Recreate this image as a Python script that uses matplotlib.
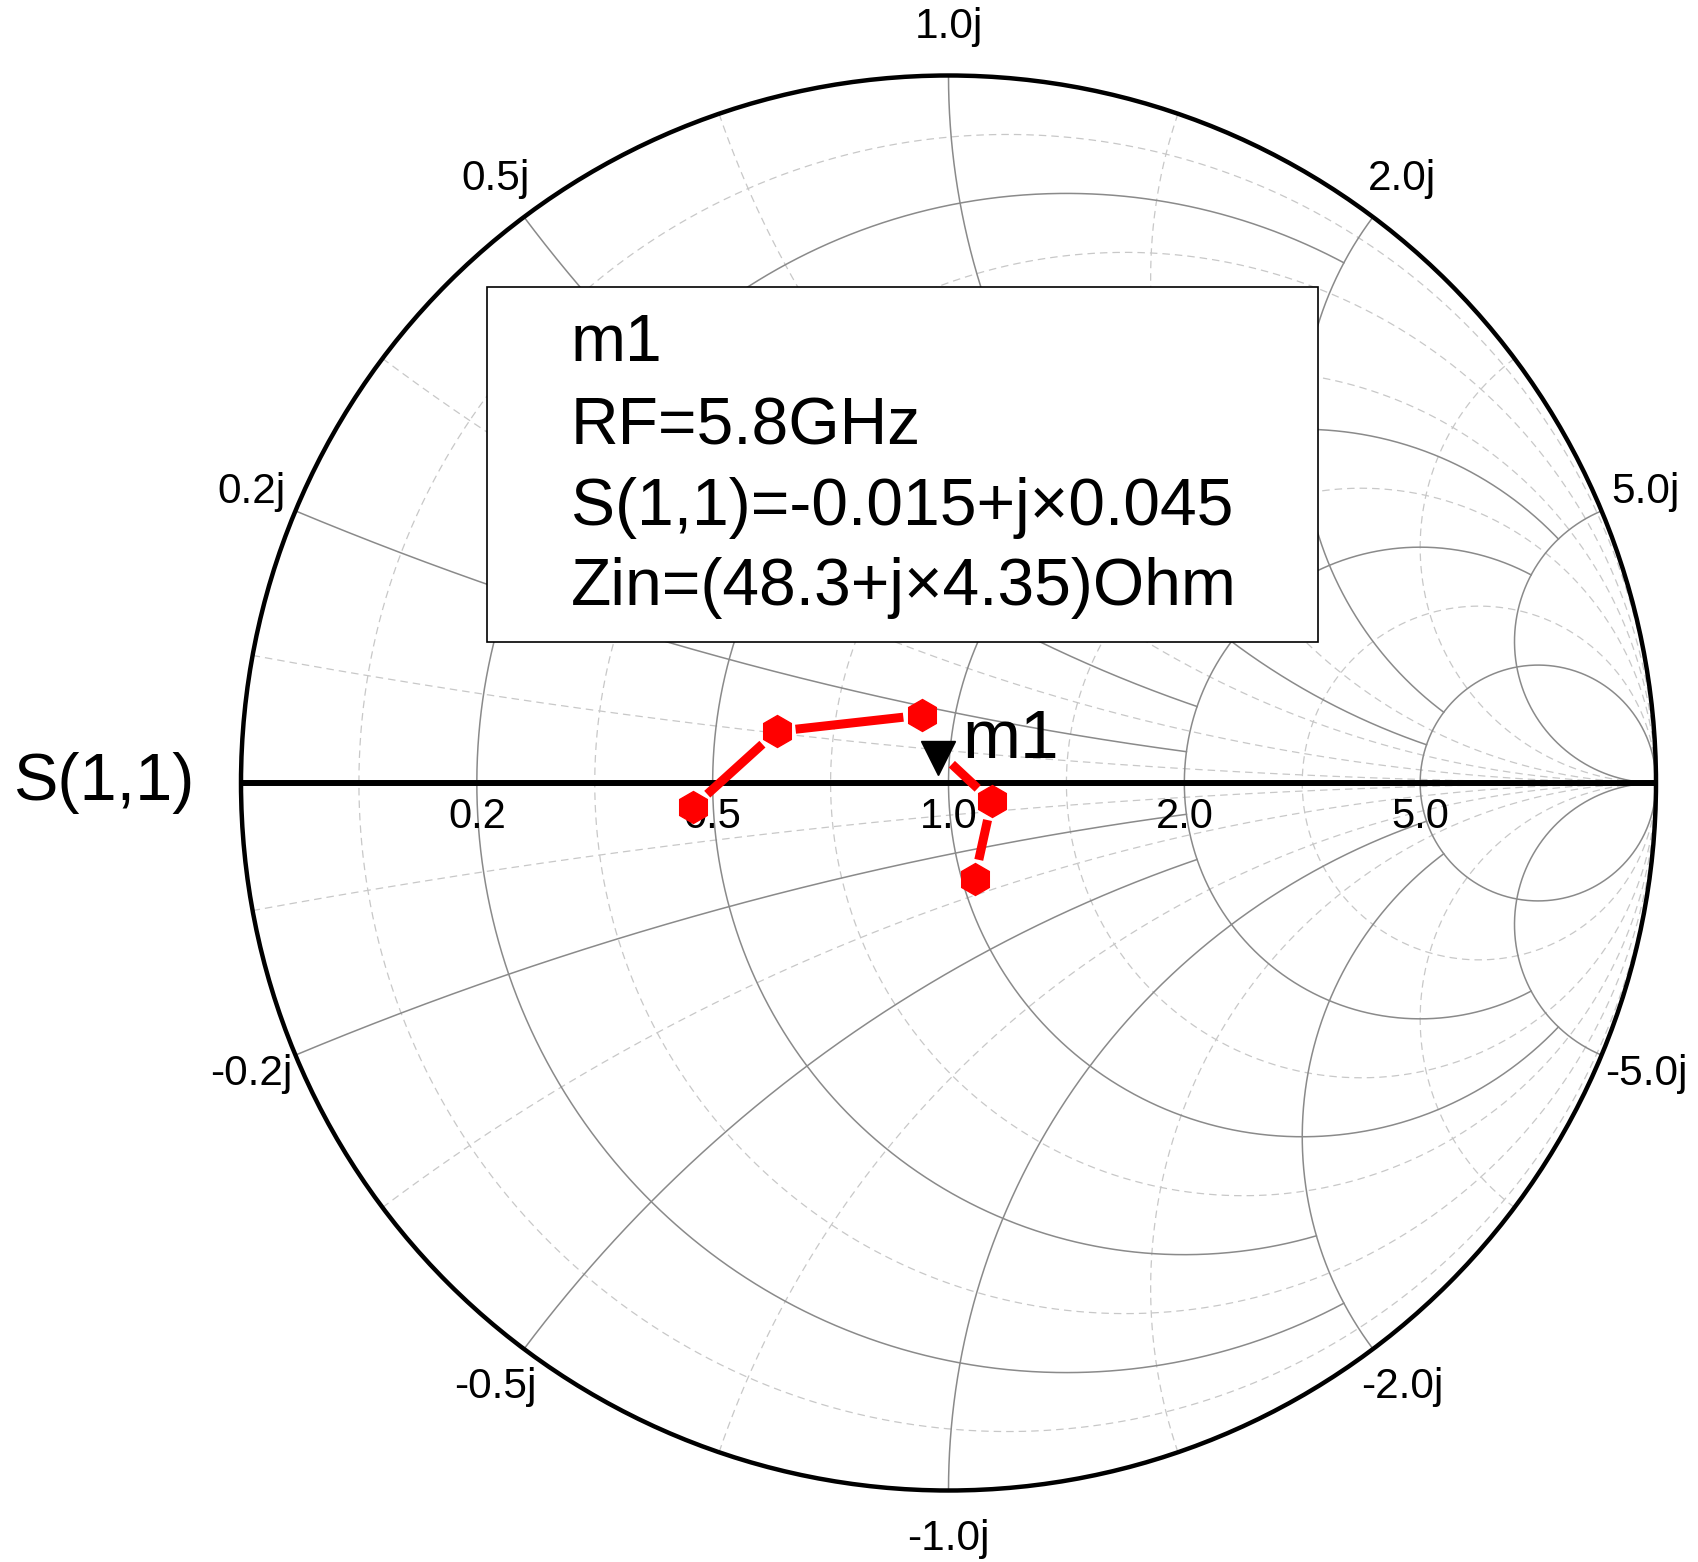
import numpy as np
import matplotlib
matplotlib.use('Agg')
import matplotlib.pyplot as plt
from matplotlib.patches import Circle, Rectangle
from matplotlib.transforms import offset_copy

plt.rcParams['font.family'] = ['Liberation Sans', 'DejaVu Sans']

# S(1,1) sweep samples (reflection coefficient, hexagon symbols)
s11_re = [-0.361, -0.243, -0.037, 0.061, 0.037]
s11_im = [-0.034, 0.073, 0.096, -0.026, -0.135]

# marker m1 (sits between 3rd and 4th sample on the trace)
m1_name = 'm1'
m1_freq = '5.8GHz'
m1_re, m1_im = -0.015, 0.045
m1_zin = (48.3, 4.35)
m1_index = 3

# Smith chart grid: solid circles/arcs and where they stop
r_major = [0.2, 0.5, 1.0, 2.0, 5.0]
r_major_xstop = [2, 2, 5, 5, np.inf]
x_major = [0.2, 0.5, 1.0, 2.0, 5.0]
x_major_rstop = [2, 2, 5, 5, np.inf]
# dashed circles/arcs (full)
grid_minor = [1 / 11, 1 / 3, 5 / 7, 7 / 5, 3.0]


def gamma(z):
    return (z - 1) / (z + 1)


def r_circle(r, xstop, n=1500):
    umax = np.arctan(xstop) if np.isfinite(xstop) else np.pi / 2
    u = np.linspace(-umax, umax, n)
    g = gamma(r + 1j * np.tan(u))
    return g.real, g.imag


def x_arc(x, rstop, n=1500):
    umax = np.arctan(rstop) if np.isfinite(rstop) else np.pi / 2
    u = np.linspace(0, umax, n)
    g = gamma(np.tan(u) + 1j * x)
    return g.real, g.imag


W, H = 1699, 1562
cx, cy, R = 948.5, 783.0, 707.5
fig = plt.figure(figsize=(W / 100, H / 100), dpi=100)
ax = fig.add_axes([0, 0, 1, 1])
ax.set_xlim(-cx / R, (W - cx) / R)
ax.set_ylim((cy - H) / R, cy / R)
ax.axis('off')

solid_kw = dict(color='#8a8a8a', lw=1.1, zorder=2)
dash_kw = dict(color='#c8c8c8', lw=0.9, linestyle=(0, (6, 4)), zorder=1)

# --- dashed grid ---
for v in grid_minor:
    ax.plot(*r_circle(v, np.inf), **dash_kw)
    ax.plot(*x_arc(v, np.inf), **dash_kw)
    ax.plot(*x_arc(-v, np.inf), **dash_kw)

# --- solid grid ---
for r, xs in zip(r_major, r_major_xstop):
    ax.plot(*r_circle(r, xs), **solid_kw)
for x, rs in zip(x_major, x_major_rstop):
    ax.plot(*x_arc(x, rs), **solid_kw)
    ax.plot(*x_arc(-x, rs), **solid_kw)

# outer circle and real axis
ax.add_patch(Circle((0, 0), 1, fill=False, ec='black', lw=3.2, zorder=3))
ax.plot([-1, 1], [0, 0], color='black', lw=4.3, solid_capstyle='butt', zorder=3)

# resistance labels under the axis
for r in r_major:
    g = gamma(r)
    ax.text(g.real, -0.02, f'{r:.1f}', fontsize=30, ha='center', va='top', zorder=4)

# reactance labels around the rim
for x in x_major:
    for sgn in (1, -1):
        g = gamma(1j * sgn * x)
        ang = np.angle(g)
        lab = f'{x:.1f}j' if sgn > 0 else f'-{x:.1f}j'
        ax.text(1.068 * np.cos(ang), 1.068 * np.sin(ang), lab, fontsize=30.5,
                ha='center', va='center', zorder=4)

ax.text(-1.066, 0, 'S(1,1)', fontsize=48, ha='right', va='center')

# --- trace ---
pts = [complex(a, b) for a, b in zip(s11_re, s11_im)]
pts.insert(m1_index, complex(m1_re, m1_im))
gap = 0.027
for a, b in zip(pts[:-1], pts[1:]):
    d = b - a
    L = abs(d)
    if L > 2 * gap + 0.015:
        p0 = a + d / L * gap
        p1 = b - d / L * gap
        ax.plot([p0.real, p1.real], [p0.imag, p1.imag], color='red', lw=6.5,
                solid_capstyle='butt', zorder=7)
ax.plot(s11_re, s11_im, 'h', color='red', ms=23, mec='red', ls='none', zorder=8)

# marker m1
tri = offset_copy(ax.transData, fig=fig, x=0, y=-7, units='dots')
ax.plot(m1_re, m1_im, 'v', color='black', ms=24, transform=tri, zorder=9)
ax.annotate(m1_name, (m1_re, m1_im), xytext=(24, -7), textcoords='offset pixels',
            fontsize=50, ha='left', va='baseline', zorder=9)

# marker readout box
bx0, bx1, by0, by1 = -0.652, 0.522, 0.199, 0.701
ax.add_patch(Rectangle((bx0, by0), bx1 - bx0, by1 - by0, fc='white', ec='black',
                       lw=1.2, zorder=5))
lines = [m1_name,
         f'RF={m1_freq}',
         f'S(1,1)={m1_re:.3f}+j×{m1_im:.3f}',
         f'Zin=({m1_zin[0]}+j×{m1_zin[1]})Ohm']
for txt, yb in zip(lines, [0.596, 0.479, 0.364, 0.251]):
    ax.text(-0.534, yb, txt, fontsize=47.5, ha='left', va='baseline', zorder=6)

fig.savefig('out.png', dpi=100, facecolor='white')
